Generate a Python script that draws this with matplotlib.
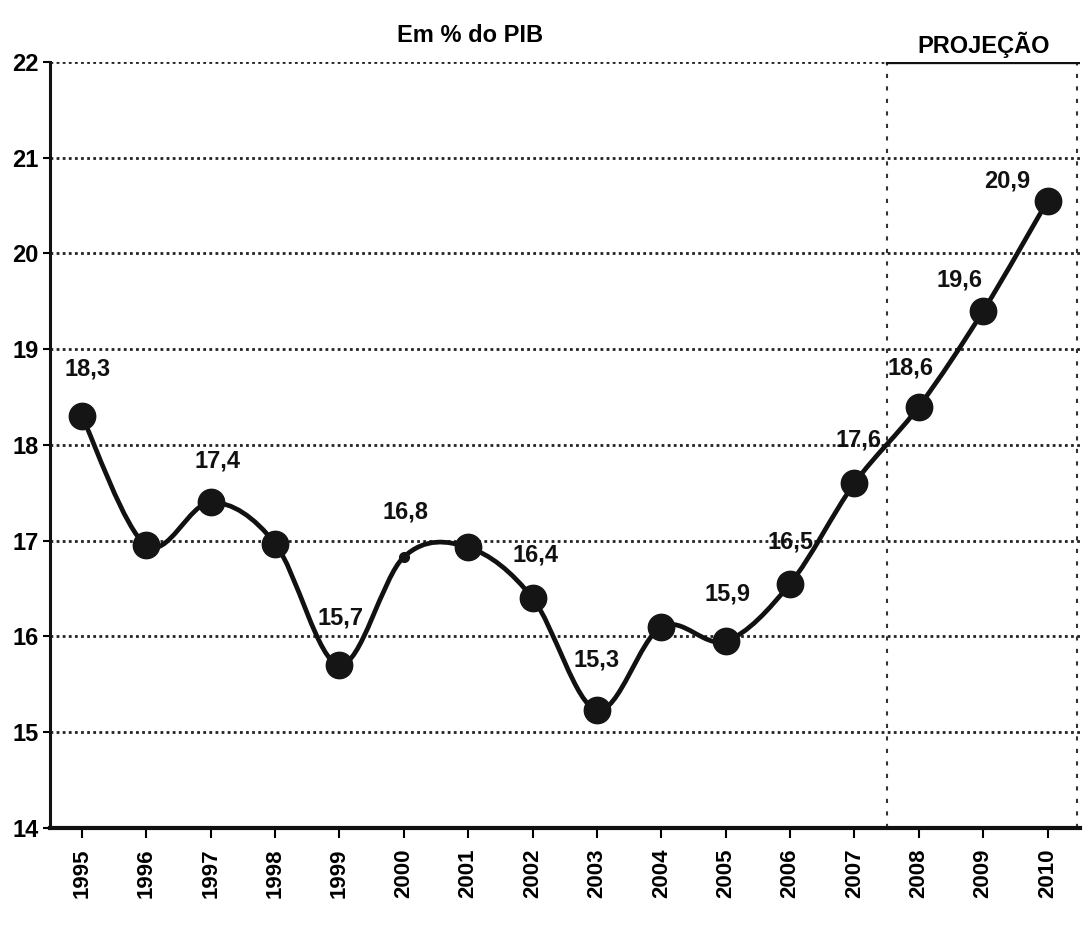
import numpy as np
import matplotlib
matplotlib.use("Agg")
import matplotlib.pyplot as plt
from matplotlib.path import Path
from matplotlib.patches import PathPatch

# data
years = [1995, 1996, 1997, 1998, 1999, 2000, 2001, 2002,
         2003, 2004, 2005, 2006, 2007, 2008, 2009, 2010]
values = [18.3, 16.95, 17.4, 16.97, 15.7, 16.83, 16.93, 16.4,
          15.23, 16.1, 15.95, 16.55, 17.6, 18.4, 19.4, 20.55]
point_labels = ["18,3", "", "17,4", "", "15,7", "16,8", "", "16,4",
                "15,3", "", "15,9", "16,5", "17,6", "18,6", "19,6", "20,9"]
y_ticks = [14, 15, 16, 17, 18, 19, 20, 21, 22]

# label offsets in points (layout only)
label_offsets = [(4, 34), (0, 0), (5, 30), (0, 0), (1, 34), (1, 32), (0, 0), (2, 31),
                 (0, 36), (0, 0), (1, 34), (0, 30), (3, 31), (-6, 28), (-17, 22), (-29, 14)]

FONT = ["Liberation Sans Narrow", "Liberation Sans", "DejaVu Sans"]
plt.rcParams["font.family"] = FONT
plt.rcParams["font.weight"] = "bold"

fig = plt.figure(figsize=(10.83, 9.26), dpi=100)
ax = fig.add_axes([0.046, 0.106, 0.951, 0.827])

ax.set_xlim(1994.5, 2010.5)
ax.set_ylim(14, 22)

# dotted grid
for v in y_ticks[1:]:
    ax.axhline(v, color="#222222", lw=2.0, ls=(0, (1.0, 1.2)), zorder=1)

# projection box
ax.plot([2007.5, 2007.5], [14, 22], color="#333333", lw=1.5, ls=(0, (2, 4)), zorder=1)
ax.plot([2010.45, 2010.45], [14, 22], color="#333333", lw=1.5, ls=(0, (2, 4)), zorder=1)
ax.plot([2007.5, 2010.5], [22, 22], color="#111111", lw=2.4, zorder=1)

# smoothed line (Catmull-Rom bezier through the points)
x = np.array(years, dtype=float)
y = np.array(values, dtype=float)
pts = np.column_stack([x, y])
verts = [pts[0]]
codes = [Path.MOVETO]
n = len(pts)
for i in range(n - 1):
    p0 = pts[i - 1] if i > 0 else pts[i]
    p1 = pts[i]
    p2 = pts[i + 1]
    p3 = pts[i + 2] if i + 2 < n else pts[i + 1]
    c1 = p1 + (p2 - p0) / 6.0
    c2 = p2 - (p3 - p1) / 6.0
    verts += [c1, c2, p2]
    codes += [Path.CURVE4] * 3
ax.add_patch(PathPatch(Path(verts, codes), fill=False, ec="#111111", lw=3.4, zorder=3))

sizes = [19 if lab != "16,8" else 7 for lab in point_labels]
for xi, yi, s in zip(years, values, sizes):
    ax.plot(xi, yi, "o", ms=s, color="#151515", zorder=4)

for xi, yi, lab, off in zip(years, values, point_labels, label_offsets):
    if lab:
        ax.annotate(lab, (xi, yi), xytext=off, textcoords="offset points",
                    ha="center", va="center", fontsize=17, fontweight="bold",
                    color="#111111", zorder=5)

# axes styling
for side in ["top", "right"]:
    ax.spines[side].set_visible(False)
ax.spines["left"].set_linewidth(2.2)
ax.spines["bottom"].set_linewidth(3)
ax.spines["left"].set_color("#111111")
ax.spines["bottom"].set_color("#111111")

ax.set_yticks(y_ticks)
ax.set_yticklabels([str(v) for v in y_ticks], fontsize=17, fontweight="bold")
ax.set_xticks(years)
ax.set_xticklabels([str(v) for v in years], rotation=90, fontsize=16, fontweight="bold")
ax.tick_params(axis="y", length=5, width=1.5, pad=3)
ax.tick_params(axis="x", length=7, width=1.5, pad=8)

fig.text(0.434, 0.962, "Em % do PIB", ha="center", va="center", fontsize=17, fontweight="bold")
fig.text(0.908, 0.952, "PROJEÇÃO", ha="center", va="center", fontsize=17, fontweight="bold")

fig.savefig("out.png", dpi=100, facecolor="white")
